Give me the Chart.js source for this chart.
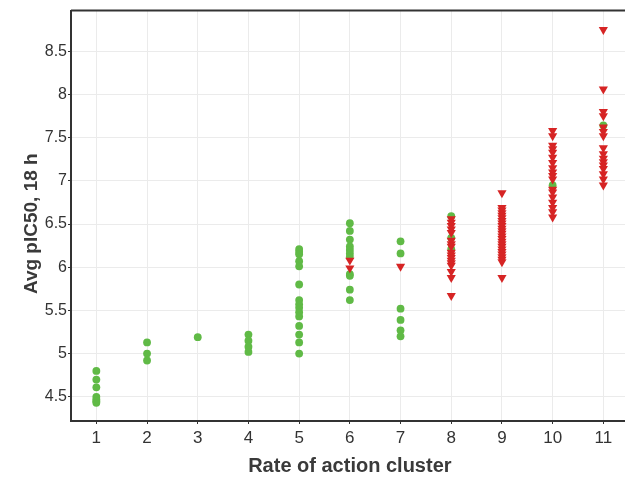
<!DOCTYPE html>
<html>
<head>
<meta charset="utf-8">
<script src="https://cdn.jsdelivr.net/npm/chart.js@4"></script>
<style>
  body { margin: 0; overflow: hidden; background: #fff; }
  #chart { display: block; }
</style>
</head>
<body>
<!-- a bit wider than the window: the panel is cut off on the right like in the original -->
<canvas id="chart" width="634" height="478"></canvas>
<script>
// Cluster numbers on the x axis
const clusters = [1, 2, 3, 4, 5, 6, 7, 8, 9, 10, 11];
const yTicks = [4.5, 5, 5.5, 6, 6.5, 7, 7.5, 8, 8.5];

// Avg pIC50 values per cluster, green circles
const greenValues = [
    [4.80, 4.70, 4.61, 4.50, 4.47, 4.45, 4.43],
    [5.13, 5.00, 4.92],
    [5.19],
    [5.22, 5.15, 5.08, 5.02],
    [6.21, 6.18, 6.15, 6.07, 6.01, 5.80, 5.62, 5.57, 5.53, 5.48, 5.43, 5.32, 5.22, 5.13, 5.00],
    [6.51, 6.42, 6.32, 6.24, 6.20, 6.16, 6.12, 5.92, 5.90, 5.74, 5.62],
    [6.30, 6.16, 5.52, 5.39, 5.27, 5.20],
    [6.59, 6.34, 6.21],
    [],
    [6.95],
    [7.64],
];

// Avg pIC50 values per cluster, red triangles
const redValues = [
    [],
    [],
    [],
    [],
    [],
    [6.08, 5.99],
    [6.01],
    [6.56, 6.52, 6.48, 6.44, 6.40, 6.31, 6.27, 6.24, 6.17, 6.14, 6.11, 6.08, 6.05, 6.02, 5.95, 5.88, 5.67],
    [6.86, 6.69, 6.66, 6.63, 6.60, 6.57, 6.54, 6.51, 6.48, 6.45, 6.42, 6.39, 6.36, 6.33, 6.30, 6.27, 6.24, 6.21, 6.18, 6.15, 6.12, 6.09, 6.06, 5.88],
    [7.58, 7.52, 7.41, 7.37, 7.33, 7.27, 7.21, 7.15, 7.10, 7.06, 7.02, 6.90, 6.87, 6.81, 6.75, 6.69, 6.64, 6.58],
    [8.75, 8.06, 7.80, 7.75, 7.62, 7.57, 7.52, 7.38, 7.31, 7.26, 7.22, 7.18, 7.14, 7.08, 7.02, 6.95],
];

// turn the per-cluster lists into scatter points
function toPoints(lists) {
    const pts = [];
    lists.forEach((vals, i) => {
        vals.forEach(v => pts.push({ x: clusters[i], y: v }));
    });
    return pts;
}

const fontFamily = "'Liberation Sans', Arial, sans-serif";
const axisColor = "#333333";

// top and right lines of the panel frame
const frameTop = {
    id: "frameTop",
    afterDraw(chart) {
        const { ctx, chartArea } = chart;
        ctx.save();
        ctx.strokeStyle = axisColor;
        ctx.lineWidth = 2;
        ctx.beginPath();
        ctx.moveTo(chartArea.left, chartArea.top);
        ctx.lineTo(chartArea.right, chartArea.top);
        ctx.lineTo(chartArea.right, chartArea.bottom);
        ctx.stroke();
        ctx.restore();
    },
};

const ctx = document.getElementById("chart").getContext("2d");
const chart = new Chart(ctx, {
    type: "scatter",
    data: {
        datasets: [
            {
                label: "green",
                data: toPoints(greenValues),
                pointStyle: "circle",
                pointRadius: 3.9,
                backgroundColor: "rgb(96, 186, 70)",
                borderColor: "rgb(96, 186, 70)",
                borderWidth: 0,
                order: 2,
            },
            {
                label: "red",
                data: toPoints(redValues),
                pointStyle: "triangle",
                rotation: 180,
                pointRadius: 5.3,
                backgroundColor: "rgb(214, 36, 36)",
                borderColor: "rgb(214, 36, 36)",
                borderWidth: 0,
                order: 1,
            },
        ],
    },
    options: {
        responsive: false,
        animation: false,
        layout: { padding: { top: 9, right: 0, left: 0, bottom: 0 } },
        plugins: {
            legend: { display: false },
            tooltip: { enabled: false },
        },
        scales: {
            x: {
                type: "linear",
                min: 0.5,
                max: 11.5,
                afterBuildTicks: (s) => { s.ticks = clusters.map(v => ({ value: v })); },
                afterFit: (s) => {
                    s.height = 57;
                    s.paddingLeft = 0;
                    s.paddingRight = 0;
                },
                grid: { color: "#ebebeb", tickColor: axisColor, tickLength: 3 },
                border: { color: axisColor, width: 2 },
                ticks: { color: axisColor, padding: 4, font: { family: fontFamily, size: 17 } },
                title: {
                    display: true,
                    text: "Rate of action cluster",
                    color: "#3a3a3a",
                    font: { family: fontFamily, size: 20, weight: "bold" },
                    padding: { top: 0, bottom: 0 },
                },
            },
            y: {
                min: 4.22,
                max: 8.97,
                afterBuildTicks: (s) => { s.ticks = yTicks.map(v => ({ value: v })); },
                afterFit: (s) => { s.width = 71; },
                grid: { color: "#ebebeb", tickColor: axisColor, tickLength: 3 },
                border: { color: axisColor, width: 2 },
                ticks: {
                    color: axisColor,
                    padding: 1,
                    font: { family: fontFamily, size: 16 },
                    callback: (v) => String(v),
                },
                title: {
                    display: true,
                    // trailing spaces nudge the centred title a little lower
                    text: "Avg pIC50, 18 h   ",
                    color: "#3a3a3a",
                    font: { family: fontFamily, size: 19, weight: "bold" },
                    padding: { top: 20, bottom: 0 },
                },
            },
        },
    },
    plugins: [frameTop],
});
</script>
</body>
</html>
